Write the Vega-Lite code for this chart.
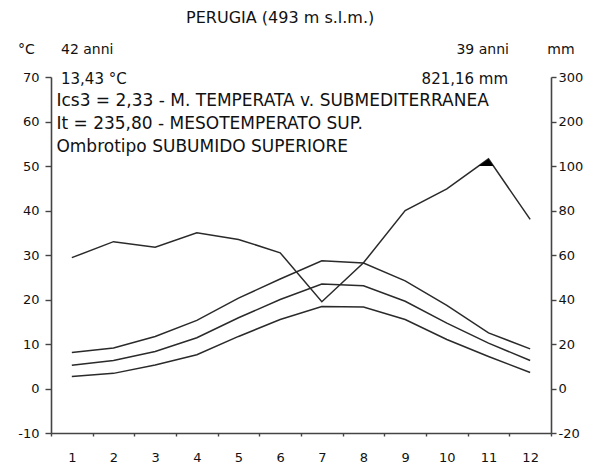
{
  "$schema": "https://vega.github.io/schema/vega-lite/v6.json",
  "width": 500,
  "height": 356,
  "autosize": {"type": "none"},
  "padding": {"left": 51, "top": 77, "right": 43, "bottom": 35},
  "background": "white",
  "config": {
    "view": {"stroke": null},
    "font": "DejaVu Sans",
    "text": {"font": "DejaVu Sans", "fontSize": 14, "color": "#111", "baseline": "middle"},
    "axis": {
      "labelFont": "DejaVu Sans",
      "labelFontSize": 13,
      "labelColor": "#111",
      "domainColor": "#444",
      "tickColor": "#444",
      "domainWidth": 1.6,
      "tickWidth": 1.4,
      "grid": false,
      "title": null
    }
  },
  "datasets": {
    "temp": [
      {"month": 1, "series": "max", "T": 8.1},
      {"month": 2, "series": "max", "T": 9.1},
      {"month": 3, "series": "max", "T": 11.7},
      {"month": 4, "series": "max", "T": 15.3},
      {"month": 5, "series": "max", "T": 20.3},
      {"month": 6, "series": "max", "T": 24.6},
      {"month": 7, "series": "max", "T": 28.7},
      {"month": 8, "series": "max", "T": 28.2},
      {"month": 9, "series": "max", "T": 24.2},
      {"month": 10, "series": "max", "T": 18.7},
      {"month": 11, "series": "max", "T": 12.5},
      {"month": 12, "series": "max", "T": 8.9},
      {"month": 1, "series": "mean", "T": 5.2},
      {"month": 2, "series": "mean", "T": 6.3},
      {"month": 3, "series": "mean", "T": 8.3},
      {"month": 4, "series": "mean", "T": 11.4},
      {"month": 5, "series": "mean", "T": 15.9},
      {"month": 6, "series": "mean", "T": 20.0},
      {"month": 7, "series": "mean", "T": 23.5},
      {"month": 8, "series": "mean", "T": 23.1},
      {"month": 9, "series": "mean", "T": 19.6},
      {"month": 10, "series": "mean", "T": 14.7},
      {"month": 11, "series": "mean", "T": 10.2},
      {"month": 12, "series": "mean", "T": 6.3},
      {"month": 1, "series": "min", "T": 2.7},
      {"month": 2, "series": "min", "T": 3.4},
      {"month": 3, "series": "min", "T": 5.3},
      {"month": 4, "series": "min", "T": 7.6},
      {"month": 5, "series": "min", "T": 11.7},
      {"month": 6, "series": "min", "T": 15.5},
      {"month": 7, "series": "min", "T": 18.4},
      {"month": 8, "series": "min", "T": 18.3},
      {"month": 9, "series": "min", "T": 15.5},
      {"month": 10, "series": "min", "T": 11.0},
      {"month": 11, "series": "min", "T": 7.2},
      {"month": 12, "series": "min", "T": 3.6}
    ],
    "prec": [
      {"month": 1, "mm": 58.8},
      {"month": 2, "mm": 66},
      {"month": 3, "mm": 63.5},
      {"month": 4, "mm": 70},
      {"month": 5, "mm": 67},
      {"month": 6, "mm": 61},
      {"month": 7, "mm": 39},
      {"month": 8, "mm": 56.5},
      {"month": 9, "mm": 80},
      {"month": 10, "mm": 89.7},
      {"month": 11, "mm": 116},
      {"month": 12, "mm": 76}
    ],
    "surplus": [
      {"month": 10.76, "mm": 100},
      {"month": 11, "mm": 116},
      {"month": 11.12, "mm": 100}
    ],
    "one": [{}]
  },
  "layer": [
    {
      "layer": [
        {
          "data": {"name": "temp"},
          "mark": {"type": "line", "color": "#2a2a2a", "strokeWidth": 1.5},
          "encoding": {
            "x": {
              "field": "month",
              "type": "quantitative",
              "scale": {"domain": [0.5, 12.5], "nice": false, "zero": false},
              "axis": {
                "values": [0.5, 1.5, 2.5, 3.5, 4.5, 5.5, 6.5, 7.5, 8.5, 9.5, 10.5, 11.5, 12.5],
                "labelExpr": "datum.value < 12 ? toString(datum.value + 0.5) : ''",
                "labelOffset": 20.8,
                "labelOverlap": false,
                "labelBound": false,
                "labelFlush": false,
                "tickSize": 3,
                "labelPadding": 15,
                "title": null
              }
            },
            "y": {
              "field": "T",
              "type": "quantitative",
              "scale": {"domain": [-10, 70], "nice": false, "zero": false},
              "axis": {
                "orient": "left",
                "values": [-10, 0, 10, 20, 30, 40, 50, 60, 70],
                "labelExpr": "toString(datum.value)",
                "tickSize": 6,
                "labelPadding": 6,
                "title": null
              }
            },
            "detail": {"field": "series", "type": "nominal"}
          }
        },
        {
          "data": {"name": "one"},
          "mark": {"type": "text", "align": "center", "fontSize": 16},
          "encoding": {"x": {"datum": 6.0}, "y": {"datum": 83.3}, "text": {"value": "PERUGIA (493 m s.l.m.)"}}
        },
        {
          "data": {"name": "one"},
          "mark": {"type": "text", "align": "center", "fontSize": 14},
          "encoding": {"x": {"datum": -0.09}, "y": {"datum": 76.1}, "text": {"value": "°C"}}
        },
        {
          "data": {"name": "one"},
          "mark": {"type": "text", "align": "center", "fontSize": 14},
          "encoding": {"x": {"datum": 12.74}, "y": {"datum": 76.1}, "text": {"value": "mm"}}
        },
        {
          "data": {"name": "one"},
          "mark": {"type": "text", "align": "left", "fontSize": 14},
          "encoding": {"x": {"datum": 0.74}, "y": {"datum": 76.1}, "text": {"value": "42 anni"}}
        },
        {
          "data": {"name": "one"},
          "mark": {"type": "text", "align": "left", "fontSize": 15},
          "encoding": {"x": {"datum": 0.74}, "y": {"datum": 69.6}, "text": {"value": "13,43 °C"}}
        },
        {
          "data": {"name": "one"},
          "mark": {"type": "text", "align": "right", "fontSize": 14},
          "encoding": {"x": {"datum": 11.49}, "y": {"datum": 76.1}, "text": {"value": "39 anni"}}
        },
        {
          "data": {"name": "one"},
          "mark": {"type": "text", "align": "right", "fontSize": 15},
          "encoding": {"x": {"datum": 11.47}, "y": {"datum": 69.6}, "text": {"value": "821,16 mm"}}
        },
        {
          "data": {"name": "one"},
          "mark": {"type": "text", "align": "left", "fontSize": 17},
          "encoding": {"x": {"datum": 0.63}, "y": {"datum": 64.6}, "text": {"value": "Ics3 = 2,33 -  M. TEMPERATA v. SUBMEDITERRANEA"}}
        },
        {
          "data": {"name": "one"},
          "mark": {"type": "text", "align": "left", "fontSize": 17},
          "encoding": {"x": {"datum": 0.63}, "y": {"datum": 59.4}, "text": {"value": "It = 235,80 - MESOTEMPERATO SUP."}}
        },
        {
          "data": {"name": "one"},
          "mark": {"type": "text", "align": "left", "fontSize": 17},
          "encoding": {"x": {"datum": 0.63}, "y": {"datum": 54.3}, "text": {"value": "Ombrotipo SUBUMIDO SUPERIORE"}}
        }
      ]
    },
    {
      "layer": [
        {
          "data": {"name": "prec"},
          "mark": {"type": "line", "color": "#2a2a2a", "strokeWidth": 1.5},
          "encoding": {
            "x": {"field": "month", "type": "quantitative"},
            "y": {
              "field": "mm",
              "type": "quantitative",
              "scale": {"type": "linear", "domain": [-20, 100, 300], "range": [356, 89, 0], "nice": false, "zero": false},
              "axis": {
                "orient": "right",
                "values": [-20, 0, 20, 40, 60, 80, 100, 200, 300],
                "labelExpr": "toString(datum.value)",
                "tickSize": 5,
                "labelPadding": 2,
                "title": null
              }
            }
          }
        },
        {
          "data": {"name": "surplus"},
          "mark": {"type": "area", "color": "#000000"},
          "encoding": {
            "x": {"field": "month", "type": "quantitative"},
            "y": {"field": "mm", "type": "quantitative"},
            "y2": {"datum": 100}
          }
        }
      ]
    }
  ],
  "resolve": {"scale": {"y": "independent"}, "axis": {"y": "independent"}}
}
